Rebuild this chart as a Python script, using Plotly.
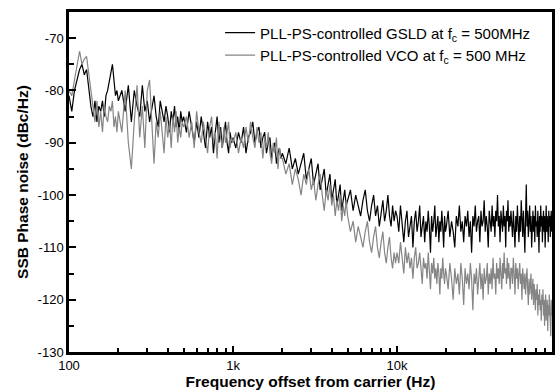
import plotly.graph_objects as go

# Measurement grid (start, stop, step) in Hz
FREQ_SEGMENTS = [(100, 196, 4), (200, 490, 10), (500, 980, 20),
                 (1000, 1960, 40), (2000, 4900, 100), (5000, 9800, 200),
                 (10000, 19750, 250), (20000, 49500, 500), (50000, 88400, 600)]
freqs = [f for (a, b, s) in FREQ_SEGMENTS for f in range(a, b + 1, s)]

X_TICKS = [100, 1000, 10000]
X_TICK_TEXT = ["100", "1k", "10k"]
Y_TICKS = [-70, -80, -90, -100, -110, -120, -130]
Y_TICK_TEXT = ["-70", "-80", "-90", "-100", "-110", "-120", "-130"]

NAME_GSLD = "PLL-PS-controlled GSLD at f<sub>c</sub> = 500MHz"
NAME_VCO = "PLL-PS-controlled VCO at f<sub>c</sub> = 500 MHz"

gsld_s1 = [-81,-84,-80,-78,-76,-75,-77,-76,-80,-83,-85,-82,-86,-83,-84,-82,-85,-81,-80,-78,-76,-75,-78,-81,-80]
gsld_s2 = [-82,-80,-84,-79,-86,-80,-83,-85,-79,-84,-82,-86,-83,-81,-85,-87,-82,-84,-86,-83,-85,-88,-84,-86,-83,-87,-85,-88,-84,-86]
gsld_s3 = [-85,-88,-84,-87,-90,-86,-89,-85,-88,-91,-86,-89,-87,-92,-88,-85,-90,-87,-91,-88,-86,-90,-92,-88,-90]
gsld_s4 = [-89,-91,-88,-90,-87,-92,-89,-88,-86,-90,-88,-87,-91,-89,-88,-92,-90,-89,-93,-91,-90,-94,-92,-91,-93]
gsld_s5 = [-92,-94,-91,-95,-93,-96,-94,-92,-97,-95,-93,-98,-96,-94,-99,-97,-95,-100,-98,-96,-101,-99,-97,-102,-100,-98,-103,-101,-99,-102]
gsld_s6 = [-101,-99,-103,-100,-102,-104,-101,-99,-103,-105,-102,-100,-104,-102,-106,-103,-101,-105,-103,-100,-104,-106,-102,-105,-103]
gsld_s7 = [-104,-107,-102,-106,-109,-105,-103,-108,-106,-104,-110,-105,-103,-107,-105,-102,-108,-106,-104,-109,
           -105,-107,-103,-106,-111,-104,-107,-105,-102,-108,-106,-104,-109,-105,-107,-103,-106,-110,-104,-107]
gsld_s8 = [-106,-103,-108,-105,-107,-110,-104,-106,-102,-107,-105,-109,-104,-106,-103,-108,-105,-111,-104,-106,
           -102,-107,-105,-104,-109,-103,-106,-105,-101,-107,-104,-106,-110,-103,-105,-107,-102,-106,-104,-108,
           -103,-105,-100,-106,-104,-109,-103,-105,-107,-102,-106,-104,-110,-103,-105,-101,-107,-104,-106,-103]
gsld_s9 = [-105,-108,-103,-106,-110,-104,-107,-102,-106,-109,-104,-107,-101,-105,-108,-103,-106,-111,-104,-98,
           -106,-103,-108,-105,-102,-107,-104,-110,-105,-103,-107,-104,-109,-102,-106,-105,-108,-103,-106,-111,
           -104,-107,-102,-106,-104,-109,-105,-103,-107,-104,-110,-105,-102,-107,-104,-106,-109,-103,-106,-104,
           -108,-105,-103,-107,-105]

vco_s1 = [-80,-81,-78,-75,-72.5,-75,-74,-73.5,-77,-80,-84,-86,-82,-87,-84,-88,-83,-85,-86,-83,-84,-82,-87,-85,-88]
vco_s2 = [-84,-88,-80,-90,-95,-86,-79,-89,-83,-91,-80,-78,-87,-94,-86,-89,-84,-88,-92,-85,-89,-86,-91,-85,-88,-84,-90,-87,-89,-86]
vco_s3 = [-87,-85,-89,-86,-91,-84,-88,-90,-86,-89,-92,-87,-85,-90,-88,-93,-86,-89,-91,-87,-90,-88,-86,-91,-89]
vco_s4 = [-90,-88,-92,-89,-91,-87,-90,-86,-89,-91,-87,-90,-88,-93,-89,-91,-88,-92,-94,-90,-92,-89,-95,-91,-93]
vco_s5 = [-93,-96,-94,-98,-95,-97,-100,-96,-98,-95,-99,-97,-101,-98,-96,-100,-103,-99,-101,-98,-102,-100,-104,-101,-103,-100,-105,-102,-104,-101]
vco_s6 = [-104,-107,-105,-109,-106,-108,-110,-107,-105,-109,-111,-108,-106,-110,-112,-109,-107,-111,-113,-110,-108,-112,-114,-111,-113]
vco_s7 = [-111,-113,-109,-112,-115,-110,-113,-111,-114,-112,-116,-112,-110,-114,-113,-111,-115,-117,-112,-114,
          -113,-116,-111,-114,-118,-113,-115,-112,-116,-114,-117,-113,-115,-119,-114,-116,-112,-115,-117,-114]
vco_s8 = [-115,-118,-113,-116,-120,-114,-117,-115,-119,-113,-116,-121,-114,-117,-115,-118,-113,-116,-122,-115,
          -117,-114,-119,-116,-113,-118,-115,-120,-114,-117,-116,-113,-119,-115,-117,-114,-118,-112,-116,-115,
          -119,-113,-116,-114,-117,-112,-115,-118,-113,-116,-111,-115,-114,-117,-112,-116,-113,-115,-118,-114]
vco_s9 = [-114,-117,-112,-115,-119,-113,-116,-114,-118,-115,-113,-117,-115,-120,-114,-116,-118,-115,-119,-116,
          -114,-118,-121,-116,-119,-117,-115,-120,-118,-116,-121,-117,-119,-122,-118,-120,-117,-123,-119,-121,
          -118,-122,-120,-124,-119,-121,-118,-123,-120,-125,-121,-119,-124,-122,-120,-126,-121,-123,-119,-124,
          -122,-127,-120,-123,-121]

gsld = gsld_s1 + gsld_s2 + gsld_s3 + gsld_s4 + gsld_s5 + gsld_s6 + gsld_s7 + gsld_s8 + gsld_s9
vco = vco_s1 + vco_s2 + vco_s3 + vco_s4 + vco_s5 + vco_s6 + vco_s7 + vco_s8 + vco_s9
assert len(gsld) == len(freqs) == len(vco), (len(gsld), len(vco), len(freqs))

FONT = "Liberation Sans, Arial, Helvetica, sans-serif"

fig = go.Figure()
fig.add_trace(go.Scatter(x=freqs, y=gsld, mode="lines", name=NAME_GSLD,
                         line=dict(color="#000000", width=1.2)))
fig.add_trace(go.Scatter(x=freqs, y=vco, mode="lines", name=NAME_VCO,
                         line=dict(color="#858585", width=1.2)))

minor_x = [v * m for v in (100, 1000, 10000) for m in range(2, 10)]

fig.update_layout(
    width=556, height=392,
    margin=dict(l=69, r=1, t=12, b=40),
    paper_bgcolor="white", plot_bgcolor="white",
    font=dict(family=FONT, size=13, color="black"),
    showlegend=True,
    legend=dict(x=0.3128, y=0.987, xanchor="left", yanchor="top",
                bgcolor="rgba(0,0,0,0)", borderwidth=0,
                font=dict(size=15, family=FONT), tracegroupgap=0),
    xaxis=dict(type="log", range=[2, 4.945],
               tickvals=X_TICKS, ticktext=X_TICK_TEXT,
               ticks="inside", ticklen=6, tickwidth=2, tickcolor="black",
               minor=dict(tickvals=minor_x, ticks="inside", ticklen=4, tickwidth=2, tickcolor="black"),
               showline=True, linewidth=2.5, linecolor="black", mirror=True,
               showgrid=False, zeroline=False,
               title=dict(text="<b>Frequency offset from carrier (Hz)</b>", standoff=0,
                          font=dict(size=15.5, family=FONT))),
    yaxis=dict(range=[-130, -65], tickvals=Y_TICKS, ticktext=Y_TICK_TEXT,
               ticks="inside", ticklen=7, tickwidth=2, tickcolor="black",
               minor=dict(dtick=5, ticks="inside", ticklen=5, tickwidth=2, tickcolor="black"),
               showline=True, linewidth=2.5, linecolor="black", mirror=True,
               showgrid=False, zeroline=False,
               title=dict(text="<b>SSB Phase noise (dBc/Hz)</b>", standoff=6,
                          font=dict(size=15.5, family=FONT))),
)

fig.write_html("out.html")
